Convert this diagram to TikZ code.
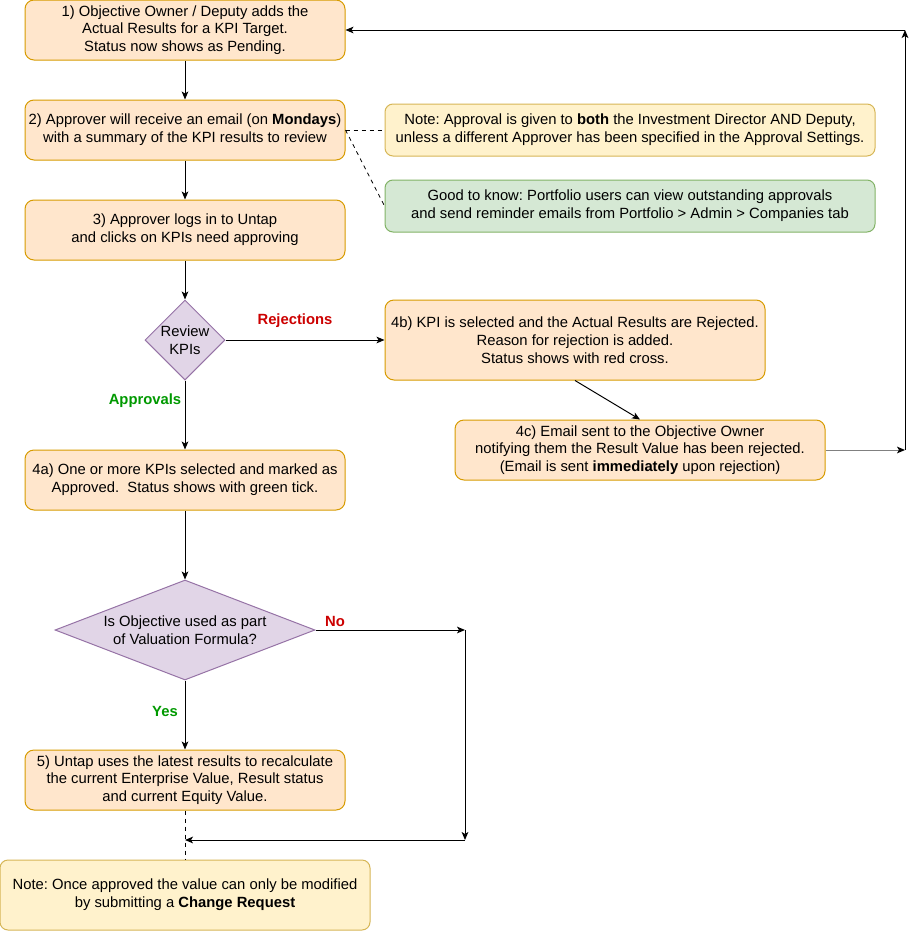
\documentclass[tikz,border=0pt]{standalone}
\usepackage{fontspec}
\setmainfont{Liberation Sans}
\frenchspacing
\usetikzlibrary{shapes.geometric,arrows.meta}
\definecolor{orfill}{HTML}{FFE6CC}
\definecolor{orline}{HTML}{D79B00}
\definecolor{yefill}{HTML}{FFF2CC}
\definecolor{yeline}{HTML}{D6B656}
\definecolor{grfill}{HTML}{D5E8D4}
\definecolor{grline}{HTML}{82B366}
\definecolor{pufill}{HTML}{E1D5E7}
\definecolor{puline}{HTML}{9673A6}
\definecolor{nored}{HTML}{CC0000}
\definecolor{yesgreen}{HTML}{009900}
\begin{document}
\begin{tikzpicture}
[x=0.75pt,y=-0.75pt,line width=0.75pt,
every node/.style={align=center,inner sep=0pt,font=\fontsize{11.1}{13.35}\selectfont},
stepbox/.style={rectangle,rounded corners=6.75pt,draw=orline,fill=orfill,minimum width=240pt,minimum height=45pt},
notebox/.style={rectangle,rounded corners=6pt,draw=yeline,fill=yefill,minimum width=367.5pt,minimum height=39pt},
tipbox/.style={notebox,draw=grline,fill=grfill},
decide/.style={diamond,draw=puline,fill=pufill},
lab/.style={font=\fontsize{11.1}{13.35}\selectfont\bfseries},
arr/.style={-{Stealth[length=6pt,width=5pt,inset=1.5pt,black]}}]
\useasboundingbox (0,0) rectangle (915,932);
\node[stepbox] (s1) at (185,30) {1) Objective Owner / Deputy adds the\\Actual Results for a KPI Target.\\Status now shows as Pending.};
\node[stepbox] (s2) at (185,130) {2) Approver will receive an email (on \textbf{Mondays})\\with a summary of the KPI results to review};
\node[stepbox] (s3) at (185,230) {3) Approver logs in to Untap\\and clicks on KPIs need approving};
\node[decide,minimum width=60pt,minimum height=60pt,label=center:{Review\\KPIs}] (d1) at (185,340) {};
\node[stepbox,minimum width=285pt,minimum height=60pt] (s4b) at (575,340) {4b) KPI is selected and the Actual Results are Rejected.\\Reason for rejection is added.\\Status shows with red cross.};
\node[stepbox,minimum width=277.5pt] (s4c) at (640,450) {4c) Email sent to the Objective Owner\\notifying them the Result Value has been rejected.\\(Email is sent \textbf{immediately} upon rejection)};
\node[stepbox] (s4a) at (185,480) {4a) One or more KPIs selected and marked as\\Approved.\ \ Status shows with green tick.};
\node[decide,minimum width=195pt,minimum height=75pt,label=center:{Is Objective used as part\\of Valuation Formula?}] (d2) at (185,630) {};
\node[stepbox] (s5) at (185,780) {5) Untap uses the latest results to recalculate\\the current Enterprise Value, Result status\\and current Equity Value.};
\node[notebox] (n1) at (630,130) {Note: Approval is given to \textbf{both} the Investment Director AND Deputy,\\unless a different Approver has been specified in the Approval Settings.};
\node[tipbox] (n2) at (630,206) {Good to know: Portfolio users can view outstanding approvals\\and send reminder emails from Portfolio > Admin > Companies tab};
\node[notebox,minimum width=277.5pt,minimum height=52.5pt] (n3) at (185,895) {Note: Once approved the value can only be modified\\by submitting a \textbf{Change Request}};
% branch labels
\node[lab,text=nored] (lrej) at (295,321) {Rejections};
\node[lab,text=yesgreen] (lapp) at (145,401) {Approvals};
\node[lab,text=nored] (lno) at (335,621) {No};
\node[lab,text=yesgreen] (lyes) at (165,711) {Yes};
% bends
\coordinate (c1) at (905,450);
\coordinate (c2) at (905,30);
\coordinate (c3) at (465,630);
\coordinate (c4) at (465,840);
\coordinate (c5) at (185,840);
\foreach \from/\to in {s1/s2,s2/s3,s3/d1,d1/s4a,d1/s4b,s4b.south/s4c.north,s4a/d2,d2/s5,d2/c3,c3/c4,c4/c5,c1/c2,c2/s1}
\draw[arr] (\from) -- (\to);
\draw[arr,draw=gray] (s4c) -- (c1);
\draw[dashed,line width=0.6pt] (s2.east) -- (n1.west);
\draw[dashed,line width=0.6pt] (s2.east) -- (n2.west);
\draw[dashed,line width=0.6pt] (s5) -- (n3);
\end{tikzpicture}
\end{document}
